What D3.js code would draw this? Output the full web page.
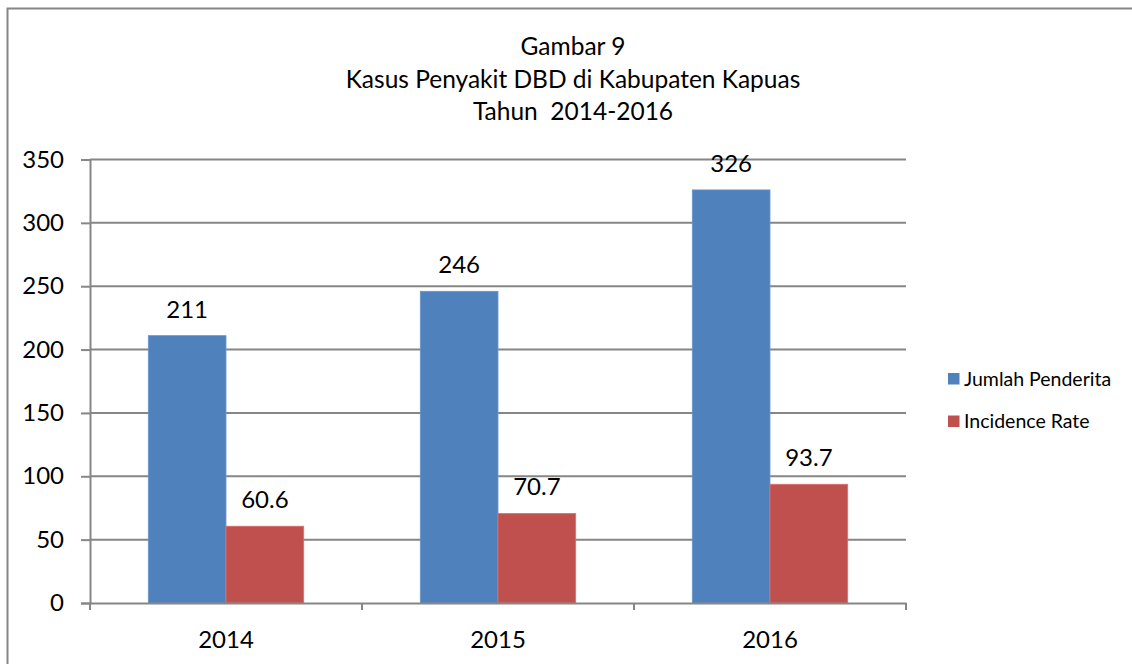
<!DOCTYPE html>
<html>
<head>
<meta charset="utf-8">
<script src="https://cdn.jsdelivr.net/npm/d3@7"></script>
<style>
body { margin: 0; background: #fff; }
text { font-family: Lato, "Open Sans", sans-serif; fill: #000; }
</style>
</head>
<body>
<div id="chart"></div>
<script>
// Data
var years = ["2014", "2015", "2016"];
var seriesNames = ["Jumlah Penderita", "Incidence Rate"];
var jumlahPenderita = [211, 246, 326];
var incidenceRate = [60.6, 70.7, 93.7];
var yTicks = [0, 50, 100, 150, 200, 250, 300, 350];
var titleLines = ["Gambar 9", "Kasus Penyakit DBD di Kabupaten Kapuas", "Tahun  2014-2016"];

// Globals
var width = 1132;
var height = 664;
var svg = d3.select("#chart")
	.append("svg")
	.attr("width", width)
	.attr("height", height);

var plot = {l: 90, r: 906, t: 159.5, b: 603};
var colors = ["#4f81bd", "#c0504d"];
var gridColor = "#868686";

// chart frame (runs off the right and bottom of the picture)
svg.append("rect")
	.attr("x", 7.5).attr("y", 8.5)
	.attr("width", width + 20).attr("height", height + 20)
	.attr("fill", "none")
	.attr("stroke", gridColor)
	.attr("stroke-width", 2);

// title
svg.append("g").selectAll("text")
	.data(titleLines)
	.enter().append("text")
		.attr("x", 573)
		.attr("y", function(d, i) { return 55 + i * 32.5; })
		.attr("text-anchor", "middle")
		.style("font-size", "24.5px")
		.style("white-space", "pre")
		.text(function(d) { return d; });

var x = d3.scaleBand()
	.domain(years)
	.range([plot.l, plot.r])
	.padding(0);

var xInner = d3.scaleBand()
	.domain(seriesNames)
	.range([0, x.bandwidth()])
	.paddingInner(0)
	.paddingOuter(0.75);

var y = d3.scaleLinear()
	.domain([0, 350])
	.range([plot.b, plot.t]);

// gridlines
svg.append("g").selectAll("line")
	.data(yTicks.slice(1))
	.enter().append("line")
		.attr("x1", plot.l).attr("x2", plot.r)
		.attr("y1", function(d) { return y(d); })
		.attr("y2", function(d) { return y(d); })
		.attr("stroke", gridColor)
		.attr("stroke-width", 2);

// bars
var rows = years.map(function(yr, i) {
	return {year: yr, values: [jumlahPenderita[i], incidenceRate[i]]};
});

var groups = svg.selectAll(".grp")
	.data(rows)
	.enter().append("g")
		.attr("class", "grp")
		.attr("transform", function(d) { return "translate(" + x(d.year) + ",0)"; });

groups.selectAll("rect")
	.data(function(d) { return d.values.map(function(v, j) { return {s: seriesNames[j], v: v, j: j}; }); })
	.enter().append("rect")
		.attr("x", function(d) { return xInner(d.s); })
		.attr("y", function(d) { return y(d.v); })
		.attr("width", xInner.bandwidth())
		.attr("height", function(d) { return y(0) - y(d.v); })
		.attr("fill", function(d) { return colors[d.j]; })
		.attr("stroke", function(d) { return d.j == 0 ? "#6d97cc" : "#d87470"; })
		.attr("stroke-width", 0.8);

groups.selectAll(".lbl")
	.data(function(d) { return d.values.map(function(v, j) { return {s: seriesNames[j], v: v}; }); })
	.enter().append("text")
		.attr("class", "lbl")
		.attr("x", function(d) { return xInner(d.s) + xInner.bandwidth() / 2; })
		.attr("y", function(d) { return y(d.v) - 18; })
		.attr("text-anchor", "middle")
		.style("font-size", "24px")
		.text(function(d) { return d.v; });

// axes
var yAxis = svg.append("g")
	.attr("transform", "translate(" + plot.l + ",0)")
	.call(d3.axisLeft(y).tickValues(yTicks).tickSize(9).tickPadding(17));

var xAxis = svg.append("g")
	.attr("transform", "translate(0," + plot.b + ")")
	.call(d3.axisBottom(x).tickSize(0).tickPadding(28));

// category boundary ticks
xAxis.selectAll(".bound")
	.data([0, 1, 2, 3])
	.enter().append("line")
		.attr("class", "bound")
		.attr("x1", function(d) { return plot.l + d * x.step(); })
		.attr("x2", function(d) { return plot.l + d * x.step(); })
		.attr("y1", 0).attr("y2", 7)
		.attr("stroke", gridColor)
		.attr("stroke-width", 2);

svg.selectAll(".domain, .tick line")
	.attr("stroke", gridColor)
	.attr("stroke-width", 2);
svg.selectAll(".tick text")
	.style("font-family", "Lato, sans-serif")
	.style("font-size", "24px")
	.attr("fill", "#000");

// legend
var legend = svg.append("g").selectAll("g")
	.data(seriesNames)
	.enter().append("g")
		.attr("transform", function(d, i) { return "translate(948," + (373 + i * 42.5) + ")"; });

legend.append("rect")
	.attr("width", 11.5).attr("height", 11.5)
	.attr("fill", function(d, i) { return colors[i]; });

legend.append("text")
	.attr("x", 16)
	.attr("y", 12.5)
	.style("font-size", "19.5px")
	.text(function(d) { return d; });
</script>
</body>
</html>
